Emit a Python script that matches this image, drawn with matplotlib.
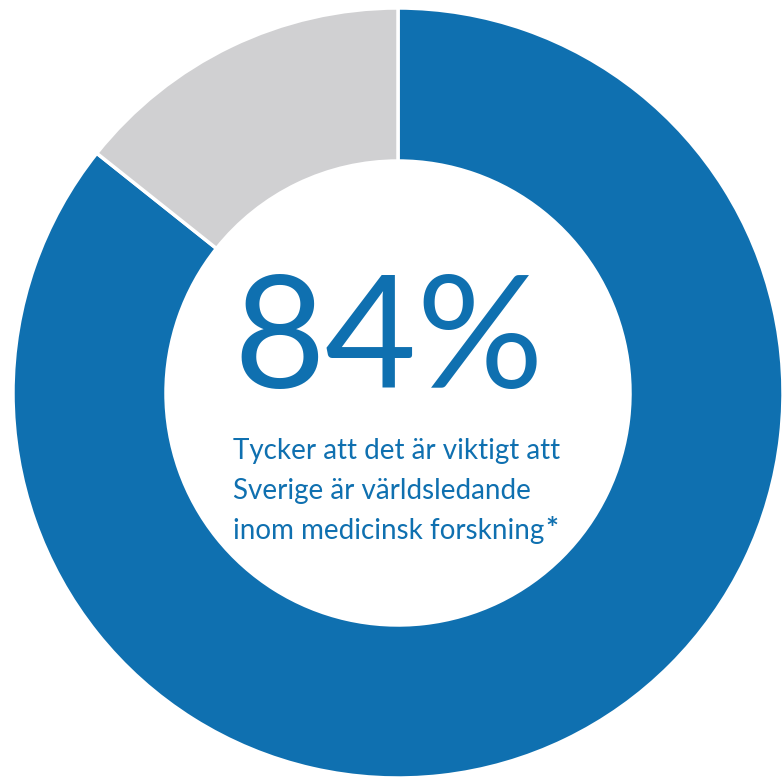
import matplotlib
matplotlib.use("Agg")
import matplotlib.pyplot as plt

# Data
labels = ["Viktigt", "Övriga"]
values = [85.7, 14.3]
colors = ["#0F70B0", "#D0D0D2"]
big_label = "84%"
sub_lines = ["Tycker att det är viktigt att",
             "Sverige är världsledande",
             "inom medicinsk forskning"]
footnote_mark = "*"

W, H = 783, 781
fig = plt.figure(figsize=(W / 100, H / 100), dpi=100)
ax = fig.add_axes([0, 0, 1, 1])

cx, cy, R, r_in = 398, H - 393, 385, 232
ax.pie(values, colors=colors, startangle=90, counterclock=False,
       center=(cx, cy), radius=R, frame=True,
       wedgeprops=dict(width=R - r_in, edgecolor="white", linewidth=2.5))
ax.set_xlim(0, W)
ax.set_ylim(0, H)
ax.set_aspect("equal")
ax.axis("off")

blue = "#0F70B0"
ax.text(233, H - 388, big_label, fontsize=114, family="Lato", color=blue,
        ha="left", va="baseline")
baselines = [459, 499, 539]
texts = []
for line, yb in zip(sub_lines, baselines):
    t = ax.text(233, H - yb, line, fontsize=20, family="Lato", color=blue,
                ha="left", va="baseline")
    texts.append(t)
ax.annotate(footnote_mark, xy=(1, H - baselines[-1]), xycoords=(texts[-1], "data"),
            xytext=(1, 0), textcoords="offset points",
            fontsize=22, family="Lato", fontweight="bold", color=blue,
            ha="left", va="baseline")

fig.savefig("out.png", dpi=100)
